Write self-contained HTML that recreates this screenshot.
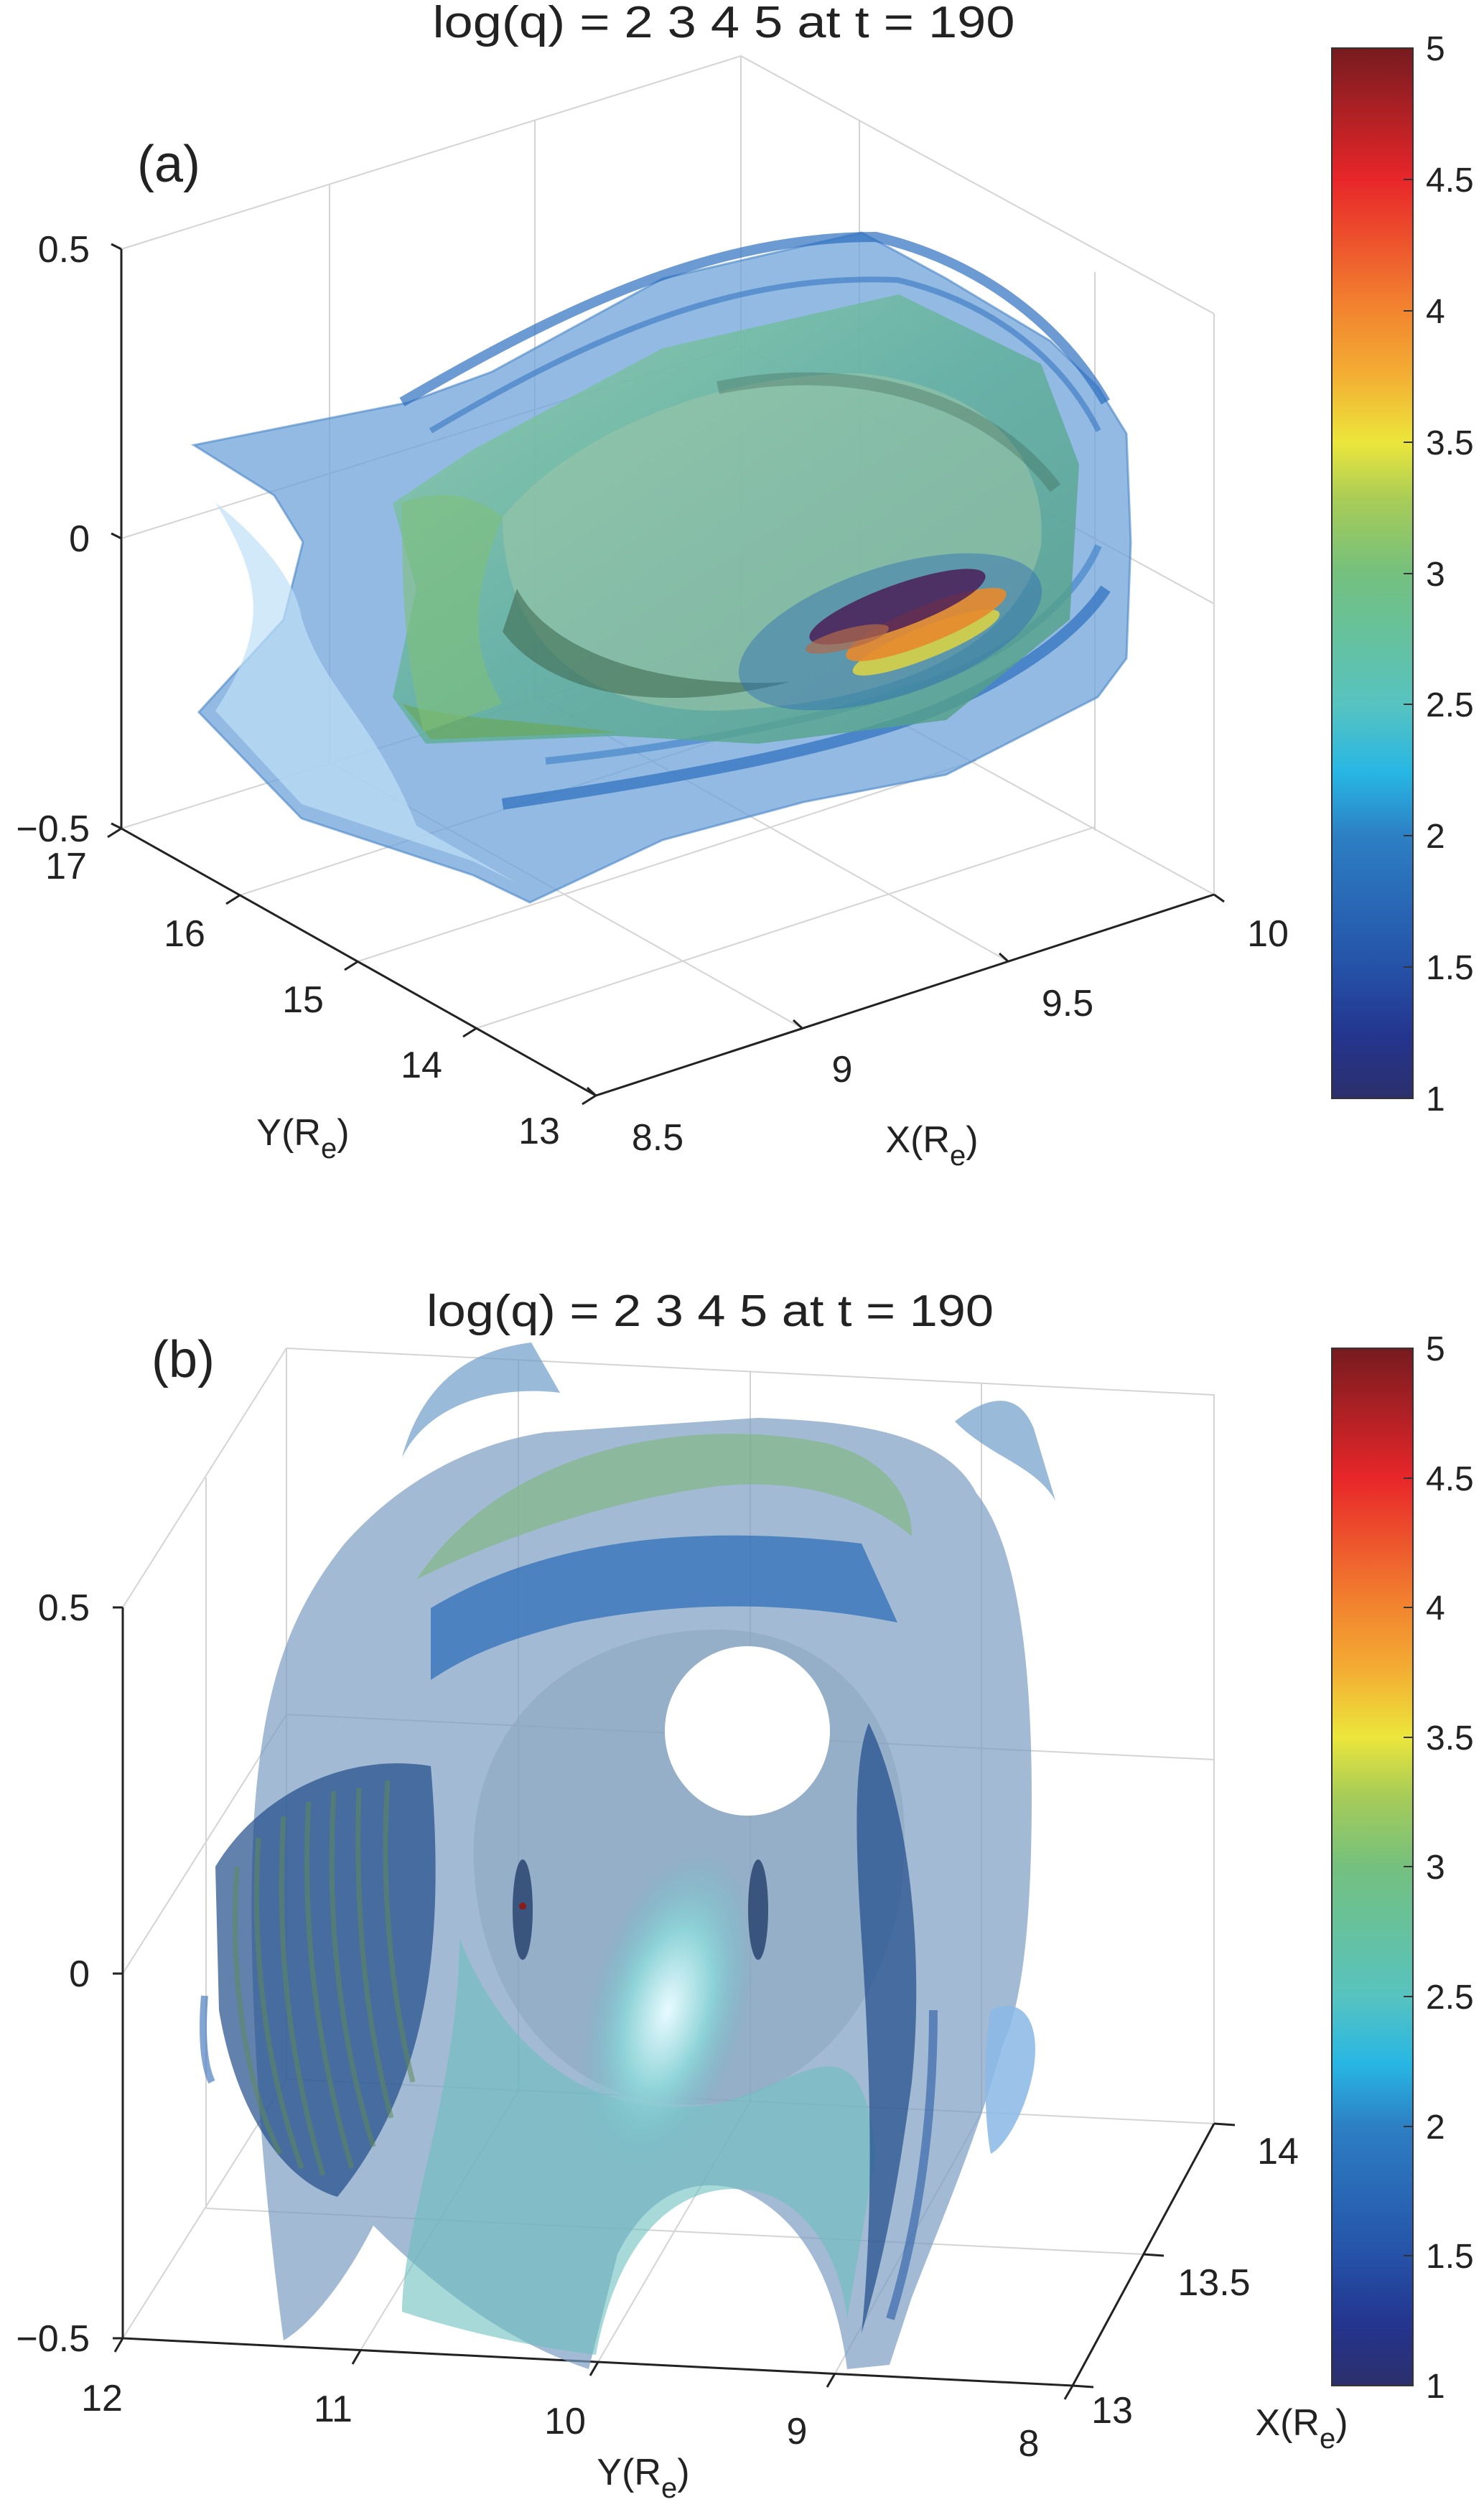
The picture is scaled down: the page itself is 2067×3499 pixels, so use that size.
<!DOCTYPE html>
<html><head><meta charset="utf-8"><style>
html,body{margin:0;padding:0;background:#fff;}
svg{display:block;}
text{font-family:"Liberation Sans",sans-serif;fill:#222;}
</style></head><body>
<svg width="2067" height="3499" viewBox="0 0 2067 3499" xmlns="http://www.w3.org/2000/svg">
<defs>
<linearGradient id="cb" x1="0" y1="1" x2="0" y2="0">
<stop offset="0" stop-color="#2c2f6b"/>
<stop offset="0.06" stop-color="#24358f"/>
<stop offset="0.125" stop-color="#2552a8"/>
<stop offset="0.25" stop-color="#2d7fc4"/>
<stop offset="0.31" stop-color="#27b6e4"/>
<stop offset="0.375" stop-color="#57c3c0"/>
<stop offset="0.5" stop-color="#74c07e"/>
<stop offset="0.57" stop-color="#a8cc57"/>
<stop offset="0.625" stop-color="#ece63b"/>
<stop offset="0.69" stop-color="#f3ad33"/>
<stop offset="0.75" stop-color="#f2852f"/>
<stop offset="0.875" stop-color="#e8262a"/>
<stop offset="1" stop-color="#761b1f"/>
</linearGradient>
<linearGradient id="gA" x1="0" y1="0" x2="1" y2="1">
<stop offset="0" stop-color="#8fd0a0"/>
<stop offset="0.5" stop-color="#5fb09a"/>
<stop offset="1" stop-color="#4f9a82"/>
</linearGradient>
<radialGradient id="glowB" cx="0.5" cy="0.5" r="0.5">
<stop offset="0" stop-color="#e8fbff"/>
<stop offset="0.5" stop-color="#8fd4d8"/>
<stop offset="1" stop-color="#6fb9c4" stop-opacity="0"/>
</radialGradient>
</defs>

<!-- ============ PANEL A ============ -->
<text x="1008" y="52" font-size="62" text-anchor="middle" textLength="811" lengthAdjust="spacingAndGlyphs">log(q) = 2  3  4  5  at  t = 190</text>
<text x="191" y="253" font-size="72">(a)</text>

<g stroke="#d4d4d4" stroke-width="2" fill="none">
<path d="M169,347 L1032,78 L1691,437"/>
<path d="M1032,78 L1032,885 M169,1154 L1032,885 L1691,1246"/>
<path d="M1691,437 L1691,1246"/>
<path d="M459,257 L459,1064 M745,168 L745,975 M1197,167 L1197,975 M1525,379 L1525,1157"/>
<path d="M169,750 L1032,481 L1691,841"/>
<path d="M334,1247 L1195,967 M499,1339 L1360,1059 M664,1432 L1525,1152"/>
<path d="M1117,1432 L456,1060 M1404,1339 L743,967"/>
</g>
<g stroke="#222" stroke-width="3" fill="none">
<path d="M169,347 L169,1154"/>
<path d="M169,1154 L830,1526 L1691,1246"/>
<path d="M169,347 L155,340 M169,750 L155,743 M169,1154 L155,1147"/>
<path d="M169,1154 L150,1166 M334,1247 L315,1259 M499,1339 L480,1351 M664,1432 L645,1444 M830,1526 L811,1538"/>
<path d="M830,1526 L818,1515 M1117,1432 L1105,1421 M1404,1339 L1392,1328 M1691,1246 L1705,1256"/>
</g>

<g>
<path d="M270,620 L567,561 L685,518 L923,388 L1200,324 L1318,388 L1463,475 L1529,539 L1569,604 L1575,755 L1569,917 L1529,971 L1318,1079 L1120,1117 L923,1170 L738,1257 L659,1219 L420,1140 L277,992 L395,863 L422,755 L382,690 Z" fill="#6ea3d8" fill-opacity="0.75" stroke="#4a86c8" stroke-width="3" stroke-opacity="0.6"/>
<path d="M300,700 C360,800 380,870 300,990 L420,1120 L660,1200 L720,1230 L580,1150 C520,1000 450,960 420,860 C410,800 350,740 300,700Z" fill="#bfe0f6" fill-opacity="0.7"/>
<path d="M560,560 C800,420 1000,330 1220,330 C1350,360 1470,440 1540,560" fill="none" stroke="#2e6fbf" stroke-width="14" stroke-opacity="0.7"/>
<path d="M600,600 C820,470 1020,380 1250,390 C1380,420 1480,500 1530,600" fill="none" stroke="#3576c2" stroke-width="8" stroke-opacity="0.6"/>
<path d="M700,1120 C900,1090 1150,1050 1300,990 C1420,940 1500,880 1540,820" fill="none" stroke="#2e6fbf" stroke-width="16" stroke-opacity="0.7"/>
<path d="M760,1060 C950,1040 1170,1000 1320,940 C1420,900 1500,830 1530,760" fill="none" stroke="#3a7ec6" stroke-width="10" stroke-opacity="0.6"/>
<path d="M547,701 L659,626 L923,485 L1252,410 L1450,507 L1503,647 L1490,863 L1318,1003 L1055,1036 L857,1025 L593,1036 L547,971 L580,820 Z" fill="url(#gA)" fill-opacity="0.8"/>
<path d="M700,720 C800,600 1000,520 1200,520 C1380,540 1460,640 1450,760 C1420,900 1250,980 1000,990 C800,990 700,880 700,720Z" fill="#9fc7a8" fill-opacity="0.55"/>
<path d="M720,820 C760,900 900,960 1100,950 C900,1000 760,960 700,880Z" fill="#3f6a52" fill-opacity="0.6"/>
<path d="M560,980 C620,1000 700,1000 860,1020 L600,1030Z" fill="#6aa85c" fill-opacity="0.7"/>
<path d="M560,700 C620,680 660,690 700,720 C660,820 650,900 700,980 L590,1020 C560,900 560,800 560,700Z" fill="#7fc07a" fill-opacity="0.6"/>
<path d="M1000,540 C1200,500 1380,560 1470,680" fill="none" stroke="#355a4a" stroke-width="18" stroke-opacity="0.3"/>
<ellipse cx="1240" cy="880" rx="220" ry="90" transform="rotate(-18 1240 880)" fill="#2f6db5" fill-opacity="0.45"/>
<ellipse cx="1290" cy="895" rx="110" ry="22" transform="rotate(-22 1290 895)" fill="#d6d248" fill-opacity="0.9"/>
<ellipse cx="1290" cy="870" rx="120" ry="26" transform="rotate(-22 1290 870)" fill="#e88a2c" fill-opacity="0.9"/>
<ellipse cx="1250" cy="845" rx="130" ry="30" transform="rotate(-20 1250 845)" fill="#4a1e58" fill-opacity="0.85"/>
<ellipse cx="1180" cy="890" rx="60" ry="14" transform="rotate(-15 1180 890)" fill="#b06a4a" fill-opacity="0.7"/>
</g>

<g font-size="52">
<text x="125" y="365" text-anchor="end">0.5</text>
<text x="125" y="768" text-anchor="end">0</text>
<text x="125" y="1172" text-anchor="end">−0.5</text>
<text x="92" y="1224" text-anchor="middle">17</text>
<text x="257" y="1318" text-anchor="middle">16</text>
<text x="422" y="1410" text-anchor="middle">15</text>
<text x="587" y="1501" text-anchor="middle">14</text>
<text x="751" y="1593" text-anchor="middle">13</text>
<text x="916" y="1602" text-anchor="middle">8.5</text>
<text x="1173" y="1507" text-anchor="middle">9</text>
<text x="1487" y="1415" text-anchor="middle">9.5</text>
<text x="1766" y="1318" text-anchor="middle">10</text>
<text x="422" y="1595" text-anchor="middle">Y(R<tspan font-size="40" dy="18">e</tspan><tspan dy="-18">)</tspan></text>
<text x="1298" y="1605" text-anchor="middle">X(R<tspan font-size="40" dy="18">e</tspan><tspan dy="-18">)</tspan></text>
</g>

<rect x="1855" y="67" width="113" height="1463" fill="url(#cb)" stroke="#333" stroke-width="2"/>
<g stroke="#333" stroke-width="2">
<path d="M1955,250 L1968,250 M1955,433 L1968,433 M1955,616 L1968,616 M1955,799 L1968,799 M1955,981 L1968,981 M1955,1164 L1968,1164 M1955,1347 L1968,1347"/>
</g>
<g font-size="48">
<text x="1986" y="84">5</text>
<text x="1986" y="267">4.5</text>
<text x="1986" y="450">4</text>
<text x="1986" y="633">3.5</text>
<text x="1986" y="816">3</text>
<text x="1986" y="998">2.5</text>
<text x="1986" y="1181">2</text>
<text x="1986" y="1364">1.5</text>
<text x="1986" y="1547">1</text>
</g>

<!-- ============ PANEL B ============ -->
<text x="989" y="1847" font-size="62" text-anchor="middle" textLength="790" lengthAdjust="spacingAndGlyphs">log(q) = 2  3  4  5  at  t = 190</text>
<text x="211" y="1918" font-size="72">(b)</text>

<g stroke="#d4d4d4" stroke-width="2" fill="none">
<path d="M171,2239 L399,1878 L1691,1943 L1691,2958"/>
<path d="M399,1878 L399,2896 L1691,2958"/>
<path d="M722,1894 L722,2912 M1045,1910 L1045,2927 M1367,1927 L1367,2943"/>
<path d="M287,2058 L287,3076"/>
<path d="M171,2749 L399,2388 L1691,2451"/>
<path d="M171,3257 L399,2896"/>
<path d="M287,3076 L1592,3140"/>
<path d="M502,3274 L722,2912 M833,3290 L1045,2927 M1163,3306 L1367,2943"/>
</g>
<g stroke="#222" stroke-width="3" fill="none">
<path d="M171,2239 L171,3257 L1494,3323 L1691,2958"/>
<path d="M171,2239 L157,2239 M171,2749 L157,2749 M171,3257 L157,3257"/>
<path d="M171,3257 L160,3276 M502,3274 L491,3293 M833,3290 L822,3309 M1163,3306 L1152,3325 M1494,3323 L1483,3342"/>
<path d="M1691,2958 L1720,2960 M1592,3140 L1621,3142 M1494,3323 L1523,3325"/>
</g>

<g>
<path d="M395,3260 C360,3000 340,2700 356,2503 C370,2350 400,2250 480,2150 C560,2060 660,2010 760,1995 L1055,1975 C1200,1980 1318,1998 1360,2080 C1424,2159 1437,2350 1437,2503 C1437,2700 1420,2800 1397,2847 C1360,2980 1318,3076 1270,3200 L1239,3294 L1180,3300 C1160,3150 1100,3080 1030,3050 C960,3030 900,3060 860,3140 L820,3300 C700,3260 600,3180 520,3100 C480,3180 430,3240 395,3260Z" fill="#7a9cc0" fill-opacity="0.7"/>
<path d="M560,2030 C600,1950 700,1930 780,1940 L740,1870 C660,1880 590,1920 560,2030Z" fill="#6e9cc8" fill-opacity="0.7"/>
<path d="M1330,1980 C1380,1940 1420,1940 1440,1990 L1470,2090 C1440,2040 1380,2030 1330,1980Z" fill="#6e9cc8" fill-opacity="0.7"/>
<path d="M580,2200 C700,2020 950,1970 1150,2010 C1230,2030 1270,2080 1270,2140 C1200,2080 1100,2060 1000,2070 C850,2090 700,2140 580,2200Z" fill="#7db87a" fill-opacity="0.6"/>
<path d="M600,2240 C750,2150 950,2120 1200,2150 L1250,2260 C1100,2230 950,2230 800,2260 C720,2280 660,2300 600,2340Z" fill="#2f6fb8" fill-opacity="0.75"/>
<path d="M660,2600 C650,2400 800,2270 1000,2270 C1150,2270 1260,2380 1260,2560 C1260,2750 1160,2900 1000,2930 C800,2950 670,2800 660,2600Z" fill="#8aa6bf" fill-opacity="0.55"/>
<path d="M640,2700 C640,2900 560,3100 560,3220 C650,3250 750,3270 830,3280 C860,3120 940,3040 1040,3050 C1120,3060 1170,3140 1180,3230 L1220,3000 C1200,2800 1120,2900 1000,2930 C820,2960 700,2850 640,2700Z" fill="#6cc0c0" fill-opacity="0.6"/>
<ellipse cx="930" cy="2800" rx="110" ry="230" transform="rotate(15 930 2800)" fill="url(#glowB)"/>
<ellipse cx="1041" cy="2411" rx="115" ry="118" fill="#ffffff"/>
<path d="M300,2600 C360,2500 480,2440 600,2460 C620,2700 600,2900 470,3060 C400,3040 330,2950 305,2800Z" fill="#1f4b8a" fill-opacity="0.7"/>
<g stroke="#5e8a5a" stroke-width="7" stroke-opacity="0.55" fill="none">
<path d="M330,2600 C320,2750 340,2900 390,3000 M360,2560 C350,2720 370,2880 420,3020 M395,2530 C385,2700 400,2860 450,3030 M430,2510 C420,2680 440,2850 490,3020 M465,2495 C455,2660 470,2830 520,2990 M500,2490 C495,2650 505,2800 545,2950 M540,2480 C530,2630 545,2780 575,2900"/>
</g>
<path d="M285,2780 C280,2840 285,2880 295,2900" stroke="#4d7fc0" stroke-width="10" fill="none" stroke-opacity="0.7"/>
<path d="M1210,2400 C1260,2500 1290,2700 1270,2900 C1250,3050 1230,3150 1200,3250 C1220,3050 1210,2850 1200,2700 C1190,2550 1190,2450 1210,2400Z" fill="#1f4b8a" fill-opacity="0.7"/>
<path d="M1300,2800 C1300,2950 1280,3100 1240,3230" stroke="#2a5ea8" stroke-width="12" fill="none" stroke-opacity="0.6"/>
<path d="M1380,2800 C1420,2780 1450,2810 1440,2880 C1430,2940 1400,2990 1380,3000 C1370,2950 1370,2850 1380,2800Z" fill="#8ab9e6" fill-opacity="0.85"/>
<ellipse cx="728" cy="2660" rx="14" ry="70" fill="#233f6a" fill-opacity="0.8"/>
<ellipse cx="1056" cy="2660" rx="14" ry="70" fill="#233f6a" fill-opacity="0.8"/>
<circle cx="728" cy="2655" r="5" fill="#8a1c1c"/>
</g>

<g font-size="52">
<text x="125" y="2257" text-anchor="end">0.5</text>
<text x="125" y="2767" text-anchor="end">0</text>
<text x="125" y="3275" text-anchor="end">−0.5</text>
<text x="142" y="3358" text-anchor="middle">12</text>
<text x="464" y="3373" text-anchor="middle">11</text>
<text x="787" y="3390" text-anchor="middle">10</text>
<text x="1110" y="3404" text-anchor="middle">9</text>
<text x="1433" y="3421" text-anchor="middle">8</text>
<text x="1780" y="3014" text-anchor="middle">14</text>
<text x="1691" y="3197" text-anchor="middle">13.5</text>
<text x="1549" y="3375" text-anchor="middle">13</text>
<text x="896" y="3461" text-anchor="middle">Y(R<tspan font-size="40" dy="18">e</tspan><tspan dy="-18">)</tspan></text>
<text x="1813" y="3392" text-anchor="middle">X(R<tspan font-size="40" dy="18">e</tspan><tspan dy="-18">)</tspan></text>
</g>

<rect x="1855" y="1878" width="113" height="1445" fill="url(#cb)" stroke="#333" stroke-width="2"/>
<g stroke="#333" stroke-width="2">
<path d="M1955,2059 L1968,2059 M1955,2239 L1968,2239 M1955,2420 L1968,2420 M1955,2600 L1968,2600 M1955,2781 L1968,2781 M1955,2962 L1968,2962 M1955,3142 L1968,3142"/>
</g>
<g font-size="48">
<text x="1986" y="1895">5</text>
<text x="1986" y="2076">4.5</text>
<text x="1986" y="2256">4</text>
<text x="1986" y="2437">3.5</text>
<text x="1986" y="2617">3</text>
<text x="1986" y="2798">2.5</text>
<text x="1986" y="2979">2</text>
<text x="1986" y="3159">1.5</text>
<text x="1986" y="3340">1</text>
</g>
</svg>
</body></html>
